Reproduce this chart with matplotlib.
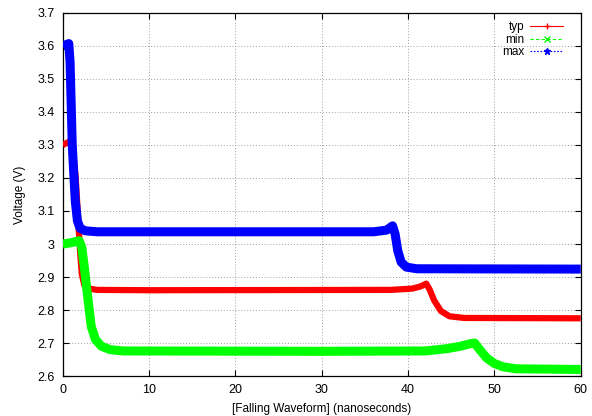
import matplotlib
matplotlib.use("Agg")
import matplotlib.pyplot as plt
from matplotlib.lines import Line2D
from matplotlib.ticker import MultipleLocator, FuncFormatter

plt.rcParams['font.family'] = ['Liberation Sans', 'DejaVu Sans']

# ---- data ----
typ_t = [0, 0.9, 1.2, 1.5, 1.8, 2.0, 2.2, 2.5, 3.0, 4.0, 10, 38, 40.5, 41.5, 42.1, 42.5, 43.0, 43.8, 44.8, 46.5, 60]
typ_v = [3.300, 3.312, 3.28, 3.20, 3.07, 2.98, 2.91, 2.875, 2.865, 2.861, 2.860, 2.861, 2.865, 2.872, 2.880,
         2.862, 2.830, 2.797, 2.781, 2.776, 2.775]

min_t = [0, 1.0, 1.9, 2.2, 2.5, 2.8, 3.3, 3.8, 4.5, 5.5, 7, 30, 42, 44.5, 46, 47.2, 47.7, 48.3, 49.1, 50.0,
         51.0, 52.5, 60]
min_v = [3.000, 3.004, 3.010, 2.99, 2.93, 2.86, 2.75, 2.71, 2.69, 2.680, 2.676, 2.675, 2.676, 2.683, 2.690,
         2.698, 2.700, 2.68, 2.655, 2.638, 2.628, 2.622, 2.620]

max_t = [0, 0.7, 0.85, 1.1, 1.45, 1.7, 2.0, 2.6, 4, 36, 37.5, 38.2, 38.5, 38.8, 39.2, 39.8, 41, 60]
max_v = [3.600, 3.607, 3.55, 3.30, 3.13, 3.07, 3.048, 3.040, 3.037, 3.037, 3.042, 3.055, 3.03, 2.98, 2.945,
         2.93, 2.925, 2.924]

series_names = ["typ", "min", "max"]
colors = ["#ff0000", "#00ff00", "#0000ff"]

fig = plt.figure(figsize=(5.92, 4.16), dpi=100)
ax = fig.add_axes([0.106, 0.096, 0.875, 0.873])

ax.plot(typ_t, typ_v, color=colors[0], lw=4.5, solid_joinstyle='round', solid_capstyle='butt', zorder=3)
ax.plot(min_t, min_v, color=colors[1], lw=6.5, solid_joinstyle='round', solid_capstyle='butt', zorder=4)
ax.plot(max_t, max_v, color=colors[2], lw=6.5, solid_joinstyle='round', solid_capstyle='butt', zorder=5)

ax.set_xlim(0, 60)
ax.set_ylim(2.6, 3.7)
ax.xaxis.set_major_locator(MultipleLocator(10))
ax.yaxis.set_major_locator(MultipleLocator(0.1))
ax.yaxis.set_major_formatter(FuncFormatter(lambda v, p: "%g" % round(v, 2)))

ax.tick_params(direction='in', top=True, right=True, length=4, width=0.8, labelsize=9, pad=6)
ax.grid(True, color='#a0a0a0', linestyle=(0, (1, 2)), linewidth=0.7)
for s in ax.spines.values():
    s.set_linewidth(0.9)
    s.set_color('black')

ax.set_xlabel("[Falling Waveform] (nanoseconds)", fontsize=8.5, labelpad=5)
ax.set_ylabel("Voltage (V)", fontsize=8.5, labelpad=8)

handles = [
    Line2D([], [], color=colors[0], lw=0.8, linestyle='-', marker='+', markersize=5),
    Line2D([], [], color=colors[1], lw=0.8, linestyle=(0, (3, 2)), marker='x', markersize=4),
    Line2D([], [], color=colors[2], lw=0.8, linestyle=(0, (1.5, 1.5)), marker='*', markersize=5),
]
leg = ax.legend(handles, series_names, loc='upper right', frameon=False, markerfirst=False,
                fontsize=8.5, handlelength=2.8, labelspacing=0.05, handletextpad=0.5,
                borderaxespad=0.0, bbox_to_anchor=(0.975, 0.99))

fig.savefig("out.png", dpi=100)
